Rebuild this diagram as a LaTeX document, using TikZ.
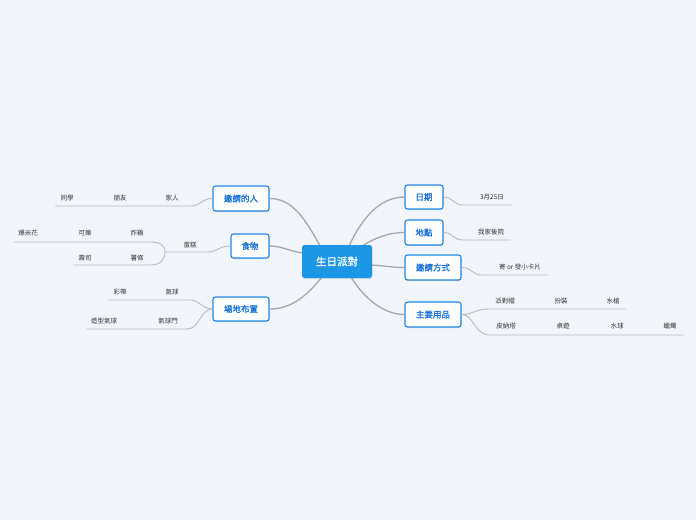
\documentclass[tikz,border=0pt]{standalone}
\usepackage{fontspec}
\setmainfont{Noto Sans CJK TC}[AutoFakeBold=1.2]
\usetikzlibrary{shadows}
\definecolor{bgc}{HTML}{F2F5FC}
\definecolor{boxc}{HTML}{1E88E5}
\definecolor{boxt}{HTML}{1A73D9}
\definecolor{rootc}{HTML}{1E96E6}
\definecolor{linec}{HTML}{A8A8A8}
\definecolor{leafl}{HTML}{BDBDBD}
\definecolor{leaft}{HTML}{333333}
\tikzset{
  topic/.style={draw=boxc, line width=1.1pt, fill=white, rounded corners=2.5pt,
    text=boxt, font=\fontsize{8.5}{10}\selectfont\bfseries, inner sep=0pt,
    drop shadow={shadow xshift=0.6pt, shadow yshift=-1pt, opacity=0.25}},
  rootbox/.style={fill=rootc, rounded corners=2.5pt, text=white,
    font=\fontsize{10.5}{12}\selectfont\bfseries, inner sep=0pt,
    minimum width=70pt, minimum height=33pt,
    drop shadow={shadow xshift=0.6pt, shadow yshift=-1pt, opacity=0.2}},
  leaf/.style={text=leaft, font=\fontsize{6.5}{8}\selectfont, inner sep=0pt},
  mainline/.style={draw=linec, line width=1.3pt},
  subline/.style={draw=leafl, line width=0.9pt},
}
\begin{document}
\begin{tikzpicture}[x=1pt,y=-1pt]
\fill[bgc] (0,0) rectangle (696,520);
\useasboundingbox (0,0) rectangle (696,520);

% connectors from root (drawn first)
\coordinate (r1) at (320,246);
\coordinate (r2) at (303,253);
\coordinate (r3) at (322,277);
\coordinate (r4) at (349,246);
\coordinate (r5) at (362,246);
\coordinate (r6) at (371,265);
\coordinate (r7) at (351,277);

% nodes
\node[topic, minimum width=56pt, minimum height=25pt] (inv) at (241,198.5) {邀請的人};
\node[topic, minimum width=38pt, minimum height=24pt] (food) at (250,246) {食物};
\node[topic, minimum width=56pt, minimum height=24pt] (venue) at (241,309) {場地布置};
\node[topic, minimum width=38pt, minimum height=24pt] (date) at (424,197) {日期};
\node[topic, minimum width=38pt, minimum height=25pt] (place) at (424,232.5) {地點};
\node[topic, minimum width=56pt, minimum height=25pt] (method) at (433,267.5) {邀請方式};
\node[topic, minimum width=56pt, minimum height=25pt] (supp) at (433,314.5) {主要用品};

\path[mainline] (r1) .. controls (305,218) and (292,198.5) .. (inv.east);
\path[mainline] (r2) .. controls (288,251) and (282,246) .. (food.east);
\path[mainline] (r3) .. controls (305,298) and (290,309) .. (venue.east);
\path[mainline] (r4) .. controls (362,218) and (380,197) .. (date.west);
\path[mainline] (r5) .. controls (375,238) and (388,232.5) .. (place.west);
\path[mainline] (r6) .. controls (388,266) and (392,267.5) .. (method.west);
\path[mainline] (r7) .. controls (365,300) and (385,314.5) .. (supp.west);

\node[rootbox] (root) at (337,261.5) {生日派對};

% leaf underline coordinates
\coordinate (a1) at (191,206); \coordinate (a2) at (55,206);
\coordinate (b1) at (207,252); \coordinate (b2) at (165,252);
\coordinate (b3) at (150,242); \coordinate (b4) at (14,242);
\coordinate (b5) at (150,265); \coordinate (b6) at (73,265);
\coordinate (c1) at (190,300); \coordinate (c2) at (108,300);
\coordinate (c3) at (187,329); \coordinate (c4) at (86,329);
\coordinate (d1) at (463,205); \coordinate (d2) at (512,205);
\coordinate (e1) at (463,240); \coordinate (e2) at (510,240);
\coordinate (f1) at (482,275); \coordinate (f2) at (548,275);
\coordinate (g1) at (490,309); \coordinate (g2) at (626,309);
\coordinate (h1) at (490,335); \coordinate (h2) at (684,335);

\path[subline] (inv.west) .. controls (202,198.5) and (200,206) .. (a1) -- (a2);
\path[subline] (food.west) .. controls (218,246) and (218,252) .. (b1) -- (b2);
\path[subline] (b2) .. controls (165,245) and (160,242) .. (b3) -- (b4);
\path[subline] (b2) .. controls (165,260) and (160,265) .. (b5) -- (b6);
\path[subline] (venue.west) .. controls (202,309) and (200,300) .. (c1) -- (c2);
\path[subline] (venue.west) .. controls (200,309) and (200,329) .. (c3) -- (c4);
\path[subline] (date.east) .. controls (453,197) and (453,205) .. (d1) -- (d2);
\path[subline] (place.east) .. controls (453,232.5) and (453,240) .. (e1) -- (e2);
\path[subline] (method.east) .. controls (472,267.5) and (472,275) .. (f1) -- (f2);
\path[subline] (supp.east) .. controls (474,314.5) and (474,309) .. (g1) -- (g2);
\path[subline] (supp.east) .. controls (474,314.5) and (474,335) .. (h1) -- (h2);

% leaf texts
\node[leaf] (t1) at (67,198) {同學};
\node[leaf] (t2) at (120,198) {朋友};
\node[leaf] (t3) at (172,198) {家人};
\node[leaf] (t4) at (190,245) {蛋糕};
\node[leaf] (t5) at (28,233) {爆米花};
\node[leaf] (t6) at (85,233) {可樂};
\node[leaf] (t7) at (137,233) {炸雞};
\node[leaf] (t8) at (85,258) {壽司};
\node[leaf] (t9) at (137,258) {薯條};
\node[leaf] (t10) at (120,292) {彩帶};
\node[leaf] (t11) at (172,292) {氣球};
\node[leaf] (t12) at (104,321) {造型氣球};
\node[leaf] (t13) at (168,321) {氣球門};
\node[leaf] (t14) at (492,197) {3月25日};
\node[leaf] (t15) at (491,232) {我家後院};
\node[leaf] (t16) at (520,267) {寄 or 發小卡片};
\node[leaf] (t17) at (505,301) {派對帽};
\node[leaf] (t18) at (561,301) {扮裝};
\node[leaf] (t19) at (613,301) {水槍};
\node[leaf] (t20) at (506,326) {皮納塔};
\node[leaf] (t21) at (563,326) {桌遊};
\node[leaf] (t22) at (617,326) {水球};
\node[leaf] (t23) at (670,326) {蠟燭};
\end{tikzpicture}
\end{document}
